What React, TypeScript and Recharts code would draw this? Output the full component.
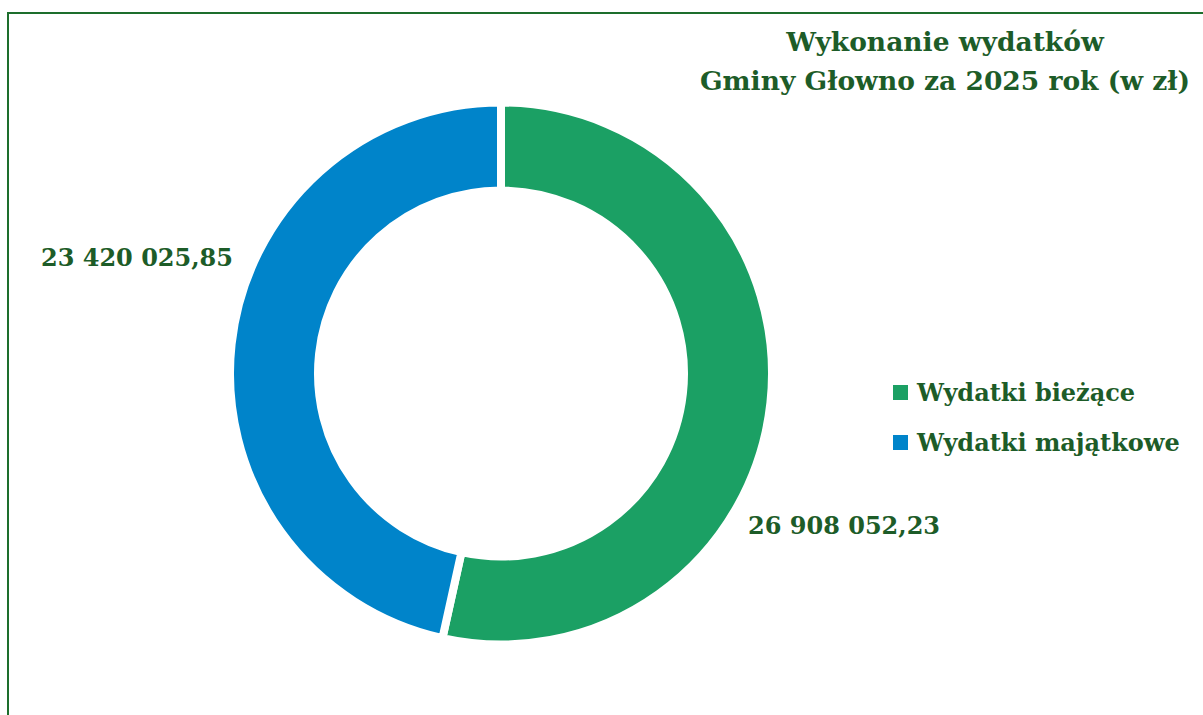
// Donut chart: Wykonanie wydatków Gminy Głowno za 2025 rok
import { PieChart, Pie, Cell, Legend } from "recharts";

const categories = ["Wydatki bieżące", "Wydatki majątkowe"];
const amounts = [26908052.23, 23420025.85];
const colors = ["#1BA064", "#0084CA"];

const TEXT_GREEN = "#1d5c28";
const FONT = "'DejaVu Serif', serif";

const data = categories.map((name, i) => ({ name, value: amounts[i] }));

// Polish number format: "26 908 052,23"
function formatPl(v: number) {
  const [intPart, dec] = v.toFixed(2).split(".");
  const grouped = intPart.replace(/\B(?=(\d{3})+(?!\d))/g, " ");
  return `${grouped},${dec}`;
}

// label placement mimics Excel's best-fit positions
const LABEL_OFFSETS = [
  { dx: 247, dy: 160, anchor: "start" },
  { dx: -268, dy: -108, anchor: "end" },
];

function renderLabel(props: any) {
  const { cx, cy, index, value } = props;
  const o = LABEL_OFFSETS[index];
  return (
    <text
      x={cx + o.dx}
      y={cy + o.dy}
      textAnchor={o.anchor}
      fill={TEXT_GREEN}
      fontFamily={FONT}
      fontWeight="bold"
      fontSize={24}
    >
      {formatPl(value)}
    </text>
  );
}

function LegendContent({ payload }: { payload?: any[] }) {
  if (!payload) return null;
  return (
    <div>
      {payload.map((entry, i) => (
        <div
          key={`legend-${i}`}
          style={{ display: "flex", alignItems: "center", height: 50 }}
        >
          <span
            style={{
              width: 15,
              height: 15,
              background: entry.color,
              marginRight: 9,
              display: "inline-block",
            }}
          />
          <span
            style={{
              fontFamily: FONT,
              fontWeight: "bold",
              fontSize: 24,
              color: TEXT_GREEN,
            }}
          >
            {entry.value}
          </span>
        </div>
      ))}
    </div>
  );
}

export default function App() {
  return (
    <div
      style={{
        position: "absolute",
        left: 7,
        top: 12,
        width: 1260,
        height: 760,
        border: "2px solid #1d6e2c",
        boxSizing: "border-box",
        background: "#fff",
      }}
    >
      <div
        style={{
          position: "absolute",
          left: 636,
          top: 8,
          width: 600,
          textAlign: "center",
          fontFamily: FONT,
          fontWeight: "bold",
          fontSize: 26.5,
          lineHeight: "39px",
          color: TEXT_GREEN,
        }}
      >
        Wykonanie wydatków
        <br />
        Gminy Głowno za 2025 rok (w zł)
      </div>
      <PieChart
        width={1190}
        height={700}
        margin={{ top: 0, right: 0, bottom: 0, left: 0 }}
      >
        <Pie
          data={data}
          dataKey="value"
          nameKey="name"
          cx={492}
          cy={359.5}
          outerRadius={271}
          innerRadius={183}
          startAngle={90}
          endAngle={-270}
          stroke="#ffffff"
          strokeWidth={8}
          label={renderLabel}
          labelLine={false}
          isAnimationActive={false}
        >
          {data.map((_entry, index) => (
            <Cell key={`cell-${index}`} fill={colors[index]} />
          ))}
        </Pie>
        <Legend
          layout="vertical"
          content={<LegendContent />}
          wrapperStyle={{ left: 884, top: 353, width: 300 }}
        />
      </PieChart>
    </div>
  );
}
